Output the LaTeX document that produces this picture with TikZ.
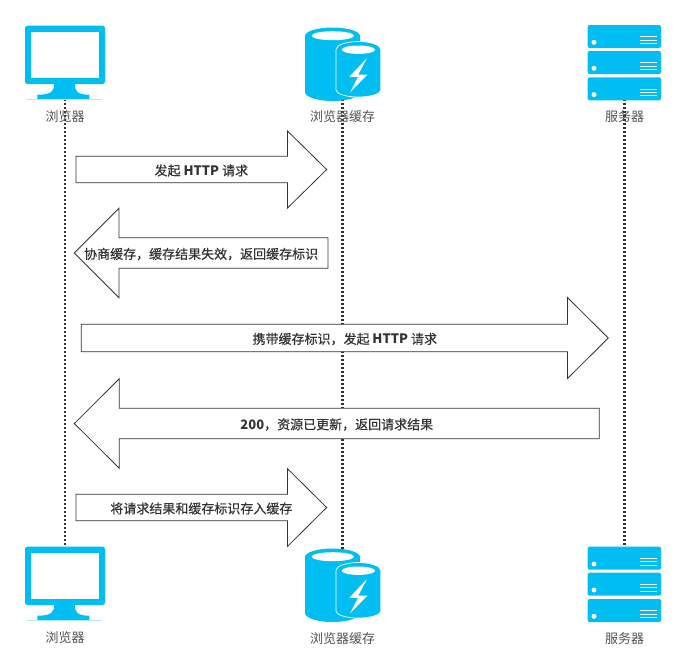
\documentclass[tikz,border=0pt]{standalone}
\usepackage{xcolor}
\usepackage{fontspec}
\newfontfamily\cjk{Noto Sans CJK SC}
\newfontfamily\cjkbold[FakeBold=0.3,BoldFeatures={FakeBold=0}]{Noto Sans CJK SC}
\definecolor{iconblue}{HTML}{00BEF2}
\definecolor{inkgray}{HTML}{333333}
\tikzset{
	lifeline/.style={inkgray, line width=2.4pt, dash pattern=on 2.2pt off 1.8pt},
	iconlabel/.style={text=inkgray!85, font=\cjk\fontsize{13}{15}\selectfont, inner sep=0pt},
	arrowlabel/.style={text=inkgray, font=\cjkbold\fontsize{13}{15}\selectfont, inner sep=0pt},
	blockline/.style={draw=inkgray, fill=white, line width=0.8pt, line join=miter},
	monitor/.pic={
			\fill[iconblue, rounded corners=2.5pt] (25,25.7) rectangle (105,84);
			\fill[white] (31,31.7) rectangle (99.3,77.7);
			\fill[iconblue] (54.3,83) .. controls (54.3,91) and (52,94.7) .. (37.3,94.7)
			-- (37.3,99.3) -- (89.3,99.3) -- (89.3,94.7)
			.. controls (77,94.7) and (74.7,91) .. (74.7,83) -- cycle;
			\draw[iconblue!30, line width=0.5pt] (27,99.6) -- (102,99.6);
		},
	cachedb/.pic={
			% big cylinder
			\fill[iconblue] (305,36) arc[x radius=27.5, y radius=8.5, start angle=180, end angle=360]
			-- (360,92) arc[x radius=27.5, y radius=9, start angle=0, end angle=180] -- cycle;
			\fill[white] (332.8,35.7) ellipse[x radius=21.2, y radius=4.5];
			% small cylinder
			\filldraw[iconblue, draw=white, line width=0.7pt] (336,49.5) arc[x radius=22.4, y radius=8, start angle=180, end angle=360]
			-- (380.8,90) arc[x radius=22.4, y radius=7, start angle=0, end angle=180] -- cycle;
			\fill[white] (358.4,49.7) ellipse[x radius=16.7, y radius=4.2];
			% bolt
			\fill[white] (367,58) -- (349.3,76.7) -- (358,77) -- (350,92.5) -- (367.5,74.5) -- (358.3,74.5) -- cycle;
		},
	rackunit/.pic={
			\fill[iconblue, rounded corners=2pt] (587.7,0) rectangle (661,23);
			\fill[white] (594,17.3) circle (2.5);
			\foreach \rowy in {11.7,15,18.3}
			\draw[white, line width=1pt] (640.3,\rowy) -- (656.7,\rowy);
		}
}
% tail x, base x, tip x, mid y, half body, half head
\newcommand{\blockarrow}[8]{
	\path[blockline] (#2,#5-#6) -- (#3,#5-#6) -- (#3,#5-#7) -- (#4,#5) -- (#3,#5+#7)
	-- (#3,#5+#6) -- (#2,#5+#6) -- cycle;
	\node[arrowlabel] (#1) at ({(#2+#4)/2},#5+1) {#8};
}

\begin{document}
\begin{tikzpicture}[x=1pt, y=-1pt]
	\useasboundingbox (0,0) rectangle (687,659);

	% Lifeline ends
	\coordinate (browserTop) at (65,99);
	\coordinate (browserEnd) at (65,548);
	\coordinate (cacheTop) at (342.5,99);
	\coordinate (cacheEnd) at (342.5,550);
	\coordinate (serverTop) at (624.5,99);
	\coordinate (serverEnd) at (624.5,548);

	% Lifelines
	\draw[lifeline] (browserTop) -- (browserEnd);
	\draw[lifeline] (cacheTop) -- (cacheEnd);
	\draw[lifeline] (serverTop) -- (serverEnd);

	% Top row
	\pic (browserA) at (0,0) {monitor};
	\pic (cacheA) at (0,0) {cachedb};
	\pic (serverA1) at (0,25) {rackunit};
	\pic (serverA2) at (0,51) {rackunit};
	\pic (serverA3) at (0,77.3) {rackunit};
	\node[iconlabel] (browserNameA) at (65,116.5) {浏览器};
	\node[iconlabel] (cacheNameA) at (342.5,116.5) {浏览器缓存};
	\node[iconlabel] (serverNameA) at (624.5,116.5) {服务器};

	% Messages
	\blockarrow{askCache}{76}{287.5}{326.7}{169.5}{13.3}{38.5}{发起 {\bfseries HTTP} 请求}
	\blockarrow{cacheStale}{328}{119}{74.3}{253}{15.2}{44.8}{协商缓存，缓存结果失效，返回缓存标识}
	\blockarrow{askServer}{81.3}{567.5}{608.3}{338}{13.7}{40.5}{携带缓存标识，发起 {\bfseries HTTP} 请求}
	\blockarrow{serverReply}{599.3}{119.3}{74.3}{423.5}{15.3}{44.8}{{\bfseries 200}，资源已更新，返回请求结果}
	\blockarrow{storeCache}{76}{287.5}{326.7}{507.5}{13.3}{38.8}{将请求结果和缓存标识存入缓存}

	% Bottom row
	\pic (browserB) at (0,521) {monitor};
	\pic (cacheB) at (0,521) {cachedb};
	\pic (serverB1) at (0,546.7) {rackunit};
	\pic (serverB2) at (0,572.7) {rackunit};
	\pic (serverB3) at (0,599) {rackunit};
	\node[iconlabel] (browserNameB) at (65,637.5) {浏览器};
	\node[iconlabel] (cacheNameB) at (342.5,638.5) {浏览器缓存};
	\node[iconlabel] (serverNameB) at (624.5,638.5) {服务器};
\end{tikzpicture}
\end{document}
